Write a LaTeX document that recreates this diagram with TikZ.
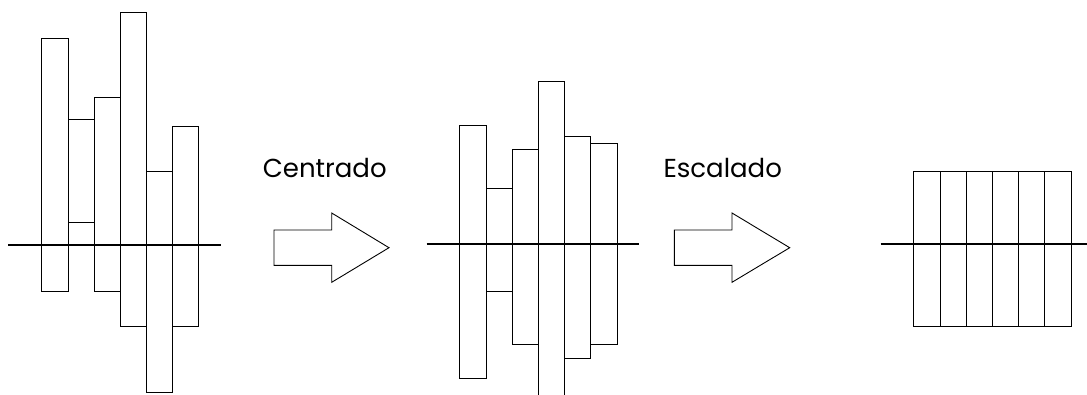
\documentclass[tikz,border=0pt]{standalone}
\usepackage{fontspec}
\setmainfont{Poppins}
\begin{document}
\begin{tikzpicture}[x=1pt,y=-1pt,
  bar/.style={draw=black,line width=1pt,fill=none},
  axis/.style={draw=black,line width=2.2pt},
  blockarrow/.style={draw=black,line width=0.9pt,line join=miter},
  caption/.style={font=\fontsize{26}{30}\selectfont,anchor=base west,inner sep=0pt}]
  \clip (0,0) rectangle (1087,394);
  \fill[white] (0,0) rectangle (1087,394);

  % input bars
  \draw[bar] (41.3,38.3) rectangle (68.3,291.3);
  \draw[bar] (68.3,119) rectangle (94,222);
  \draw[bar] (94,97.3) rectangle (120,291.3);
  \draw[bar] (120,12) rectangle (146,326);
  \draw[bar] (146,171.3) rectangle (172.3,392.7);
  \draw[bar] (172.3,126.3) rectangle (198.7,326);
  \coordinate (axAL) at (8,244.7);
  \coordinate (axAR) at (221,244.7);
  \draw[axis] (axAL) -- (axAR);

  % centred bars
  \draw[bar] (459.3,125.3) rectangle (486.3,378.7);
  \draw[bar] (486.3,188.7) rectangle (512,291.7);
  \draw[bar] (512,149.3) rectangle (538,344);
  \draw[bar] (538,81.3) rectangle (564.3,407);
  \draw[bar] (564.3,136.3) rectangle (590.7,358);
  \draw[bar] (590.7,143.7) rectangle (617,344);
  \coordinate (axBL) at (426.7,244.2);
  \coordinate (axBR) at (638.7,244.2);
  \draw[axis] (axBL) -- (axBR);

  % scaled bars
  \foreach \xa/\xb in {913.7/940,940/966.3,966.3/992.7,992.7/1018.7,1018.7/1044.7,1044.7/1071}
    \draw[bar] (\xa,171.3) rectangle (\xb,326);
  \coordinate (axCL) at (880.7,244.3);
  \coordinate (axCR) at (1090,244.3);
  \draw[axis] (axCL) -- (axCR);

  % step arrows
  \draw[blockarrow] (274,230) -- (331.7,230) -- (331.7,213) -- (389,247.7)
    -- (331.7,282.3) -- (331.7,265.3) -- (274,265.3) -- cycle;
  \draw[blockarrow] (674.3,230) -- (732,230) -- (732,213) -- (789.7,247.7)
    -- (732,282.3) -- (732,265.3) -- (674.3,265.3) -- cycle;

  \node[caption] (centrado) at (262.7,177.3) {Centrado};
  \node[caption] (escalado) at (663.3,177.3) {Escalado};
\end{tikzpicture}
\end{document}
